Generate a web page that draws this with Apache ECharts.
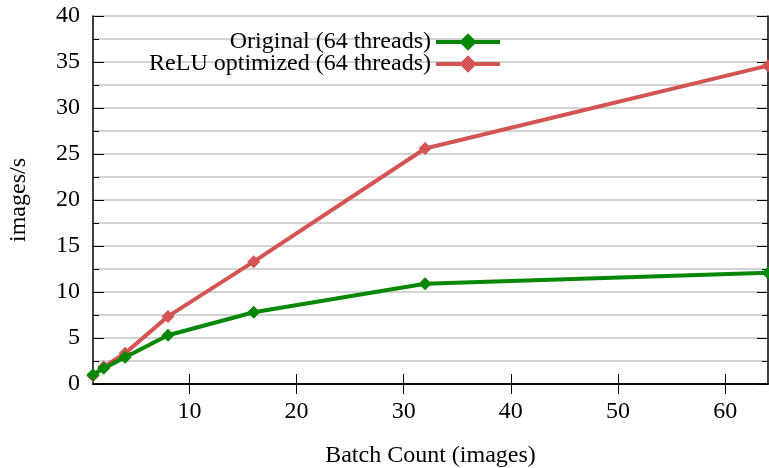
<!DOCTYPE html>
<html>
<head>
<meta charset="utf-8">
<script src="https://cdn.jsdelivr.net/npm/echarts@6/dist/echarts.min.js"></script>
<style>
    html, body {margin: 0; padding: 0; background: #fff;}
    #main {width: 769px; height: 468px;}
</style>
</head>
<body>
<div id="main"></div>
<script>
    // batch sizes (x) and throughput (images/s)
    var batchCounts = [1, 2, 4, 8, 16, 32, 64];
    var originalVals = [1.0, 1.7, 2.9, 5.3, 7.8, 10.9, 12.1];
    var reluVals = [0.9, 1.85, 3.35, 7.35, 13.3, 25.6, 34.6];
    var xTicks = [10, 20, 30, 40, 50, 60];
    var seriesNames = ['Original (64 threads)', 'ReLU optimized (64 threads)'];

    var font = 'Liberation Serif';

    function pairs(vals) {
        return batchCounts.map(function (x, i) {
            return [x, vals[i]];
        });
    }

    function makeX(pos, showLabel) {
        return {
            type: 'value',
            position: pos,
            min: 1,
            max: 64,
            axisLine: {show: true, lineStyle: {color: '#000', width: 1.5}},
            axisTick: {show: true, inside: true, length: 10, customValues: xTicks,
                lineStyle: {color: '#000', width: 1}},
            axisLabel: {show: showLabel, customValues: xTicks, margin: 16,
                color: '#000', fontFamily: font, fontSize: 24},
            splitLine: {show: false}
        };
    }

    function makeY(pos, showLabel) {
        return {
            type: 'value',
            position: pos,
            min: 0,
            max: 40,
            interval: 5,
            axisLine: {show: true, lineStyle: {color: '#000', width: 1.5}},
            axisTick: {show: true, inside: true, length: 11, lineStyle: {color: '#000', width: 1}},
            minorTick: {show: true, splitNumber: 2, length: 6, lineStyle: {color: '#000', width: 1}},
            axisLabel: {show: showLabel, margin: 13, color: '#000', fontFamily: font, fontSize: 24},
            splitLine: {show: showLabel, lineStyle: {color: '#d3d3d3', width: 2}},
            minorSplitLine: {show: showLabel, lineStyle: {color: '#d3d3d3', width: 2}}
        };
    }

    var xBottom = makeX('bottom', true);
    xBottom.name = 'Batch Count (images)';
    xBottom.nameLocation = 'middle';
    xBottom.nameGap = 60;
    xBottom.nameTextStyle = {color: '#000', fontFamily: font, fontSize: 24};

    var yLeft = makeY('left', true);
    yLeft.name = 'images/s';
    yLeft.nameLocation = 'middle';
    yLeft.nameGap = 62;
    yLeft.nameTextStyle = {color: '#000', fontFamily: font, fontSize: 24};

    var chart = echarts.init(document.getElementById('main'));
    chart.setOption({
        animation: false,
        backgroundColor: '#fff',
        grid: {left: 93, right: 1, top: 16, bottom: 84, outerBoundsMode: 'none'},
        legend: {
            orient: 'vertical',
            align: 'right',
            right: 262,
            top: 25,
            itemWidth: 64,
            itemHeight: 22,
            itemGap: -2,
            lineStyle: {width: 4},
            textStyle: {color: '#000', fontFamily: font, fontSize: 24},
            data: seriesNames
        },
        xAxis: [xBottom, makeX('top', false)],
        yAxis: [yLeft, makeY('right', false)],
        series: [{
            name: seriesNames[0],
            type: 'line',
            data: pairs(originalVals),
            symbol: 'diamond',
            symbolSize: 13,
            itemStyle: {color: '#068806'},
            lineStyle: {color: '#068806', width: 4},
            z: 3
        }, {
            name: seriesNames[1],
            type: 'line',
            data: pairs(reluVals),
            symbol: 'diamond',
            symbolSize: 13,
            itemStyle: {color: '#d45353'},
            lineStyle: {color: '#d45353', width: 4},
            z: 2
        }]
    });
</script>
</body>
</html>
